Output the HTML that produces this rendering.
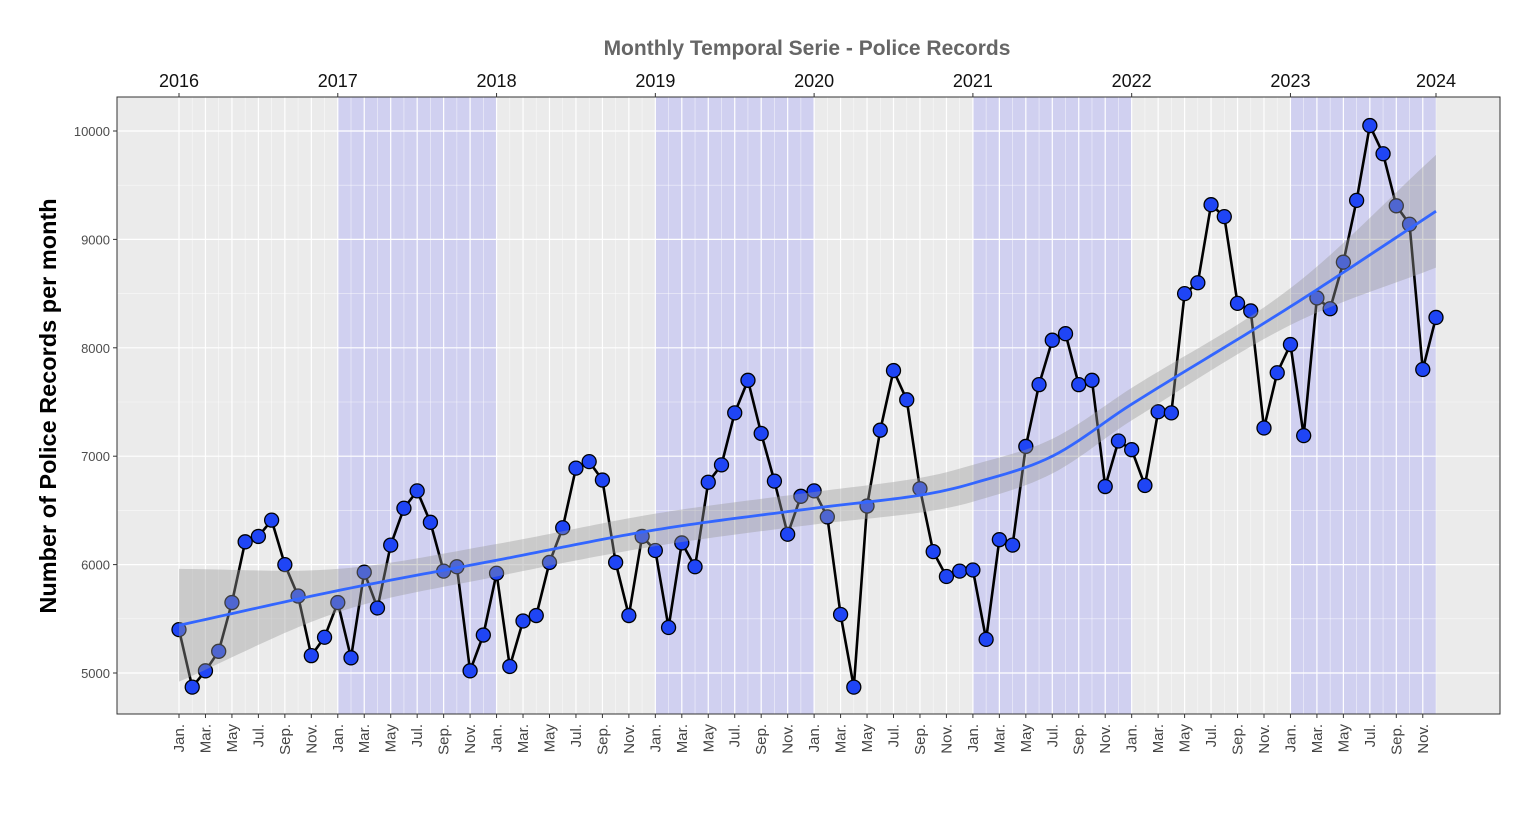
<!DOCTYPE html>
<html><head><meta charset="utf-8"><style>
body{margin:0;background:#fff;font-family:"Liberation Sans",sans-serif}
svg text{font-family:"Liberation Sans",sans-serif}
</style></head><body>
<svg id="chart" width="1539" height="814" xmlns="http://www.w3.org/2000/svg">
<g id="g"></g>
</svg>
<script>
const years=[2016,2017,2018,2019,2020,2021,2022,2023];
const monthLabels=["Jan.","Mar.","May","Jul.","Sep.","Nov."];
const yTicks=[5000,6000,7000,8000,9000,10000];
const records=[
5400,4870,5020,5200,5650,6210,6260,6410,6000,5710,5160,5330,
5650,5140,5930,5600,6180,6520,6680,6390,5940,5980,5020,5350,
5920,5060,5480,5530,6020,6340,6890,6950,6780,6020,5530,6260,
6130,5420,6200,5980,6760,6920,7400,7700,7210,6770,6280,6630,
6680,6440,5540,4870,6540,7240,7790,7520,6700,6120,5890,5940,
5950,5310,6230,6180,7090,7660,8070,8130,7660,7700,6720,7140,
7060,6730,7410,7400,8500,8600,9320,9210,8410,8340,7260,7770,
8030,7190,8460,8360,8790,9360,10050,9790,9310,9140,7800,8280];
const trendMonths=[0,12,24,36,48,56,60,66,72,84,95];
const trendValues=[5440,5760,6040,6320,6520,6640,6750,7000,7480,8380,9260];
const trendHalfWidth=[520,200,150,150,150,160,170,160,150,170,520];

const ns="http://www.w3.org/2000/svg";
const g=document.getElementById('g');
function el(t,a,p){const e=document.createElementNS(ns,t);for(const k in a)e.setAttribute(k,a[k]);(p||g).appendChild(e);return e;}
const X=m=>179+m*(1257/95);
const Y=v=>673-(v-5000)*0.1084;
const L=117,R=1500,T=97,B=714;

let e=el('rect',{x:L,y:T,width:R-L,height:B-T,fill:'#ebebeb'});

[1,3,5,7].forEach(i=>{const x0=X(i*12),x1=Math.min(X(i*12+12),X(95));
 const r=el('rect',{x:x0,y:T,width:x1-x0,height:B-T,fill:'#d0d0f0'});
 });
for(let v=4500;v<=10000;v+=500){if(Y(v)>B||Y(v)<T)continue;
 const l=el('line',{x1:L,x2:R,y1:Y(v),y2:Y(v),stroke:'#fff','stroke-width':v%1000?0.6:1.2,'stroke-opacity':v%1000?0.7:1});
 }
for(let m=0;m<96;m++){const l=el('line',{x1:X(m),x2:X(m),y1:T,y2:B,stroke:'#fff','stroke-width':m%2?0.6:1.2,'stroke-opacity':m%2?0.7:1});
 }
let p=el('polyline',{points:records.map((v,i)=>X(i)+','+Y(v)).join(' '),fill:'none',stroke:'#000','stroke-width':2.6,'stroke-linejoin':'round'});

records.forEach((v,i)=>{const c=el('circle',{cx:X(i),cy:Y(v),r:7,fill:'#1f45f5',stroke:'#000','stroke-width':1.3});
 });
// Catmull-Rom interpolation (non-uniform via slopes)
function interp(arr,m){const xs=trendMonths,n=xs.length;
 let k=0;while(k<n-2&&m>xs[k+1])k++;
 const slope=i=>{if(i===0)return (arr[1]-arr[0])/(xs[1]-xs[0]);if(i===n-1)return (arr[n-1]-arr[n-2])/(xs[n-1]-xs[n-2]);
  return (arr[i+1]-arr[i-1])/(xs[i+1]-xs[i-1]);};
 const h=xs[k+1]-xs[k],t=(m-xs[k])/h,t2=t*t,t3=t2*t;
 return (2*t3-3*t2+1)*arr[k]+(t3-2*t2+t)*h*slope(k)+(-2*t3+3*t2)*arr[k+1]+(t3-t2)*h*slope(k+1);}
let up=[],dn=[],mid=[];
for(let m=0;m<=95;m+=0.5){const v=interp(trendValues,m),h=interp(trendHalfWidth,m);
 up.push(X(m)+','+Y(v+h));dn.unshift(X(m)+','+Y(v-h));mid.push(X(m)+','+Y(v));}
e=el('polygon',{points:up.concat(dn).join(' '),fill:'#999','fill-opacity':0.4});

e=el('polyline',{points:mid.join(' '),fill:'none',stroke:'#3366ff','stroke-width':2.8});

e=el('rect',{x:L,y:T,width:R-L,height:B-T,fill:'none',stroke:'#333','stroke-width':1});

yTicks.forEach(v=>{el('line',{x1:L-4,x2:L,y1:Y(v),y2:Y(v),stroke:'#333'});
 const t=el('text',{x:L-7,y:Y(v)+5,'text-anchor':'end','font-size':13,fill:'#4d4d4d'});t.textContent=v;
 });
for(let m=0;m<96;m+=2){el('line',{x1:X(m),x2:X(m),y1:B,y2:B+4,stroke:'#333'});
 const t=el('text',{transform:`translate(${X(m)+5},${B+10}) rotate(-90)`,'text-anchor':'end','font-size':15,fill:'#444'});
 t.textContent=monthLabels[(m%12)/2];}
years.concat([2024]).forEach((y,i)=>{const x=i<8?X(i*12):X(95);
 el('line',{x1:x,x2:x,y1:T-4,y2:T,stroke:'#333'});
 const t=el('text',{x:x,y:T-10,'text-anchor':'middle','font-size':18,fill:'#111'});t.textContent=y;
 });
let t=el('text',{x:807,y:55,'text-anchor':'middle','font-size':21,'font-weight':'bold',fill:'#666'});
t.textContent='Monthly Temporal Serie - Police Records';
t=el('text',{transform:'translate(56,406) rotate(-90)','text-anchor':'middle','font-size':23.5,'font-weight':'bold',fill:'#000'});
t.textContent='Number of Police Records per month';
</script>
</body></html>
